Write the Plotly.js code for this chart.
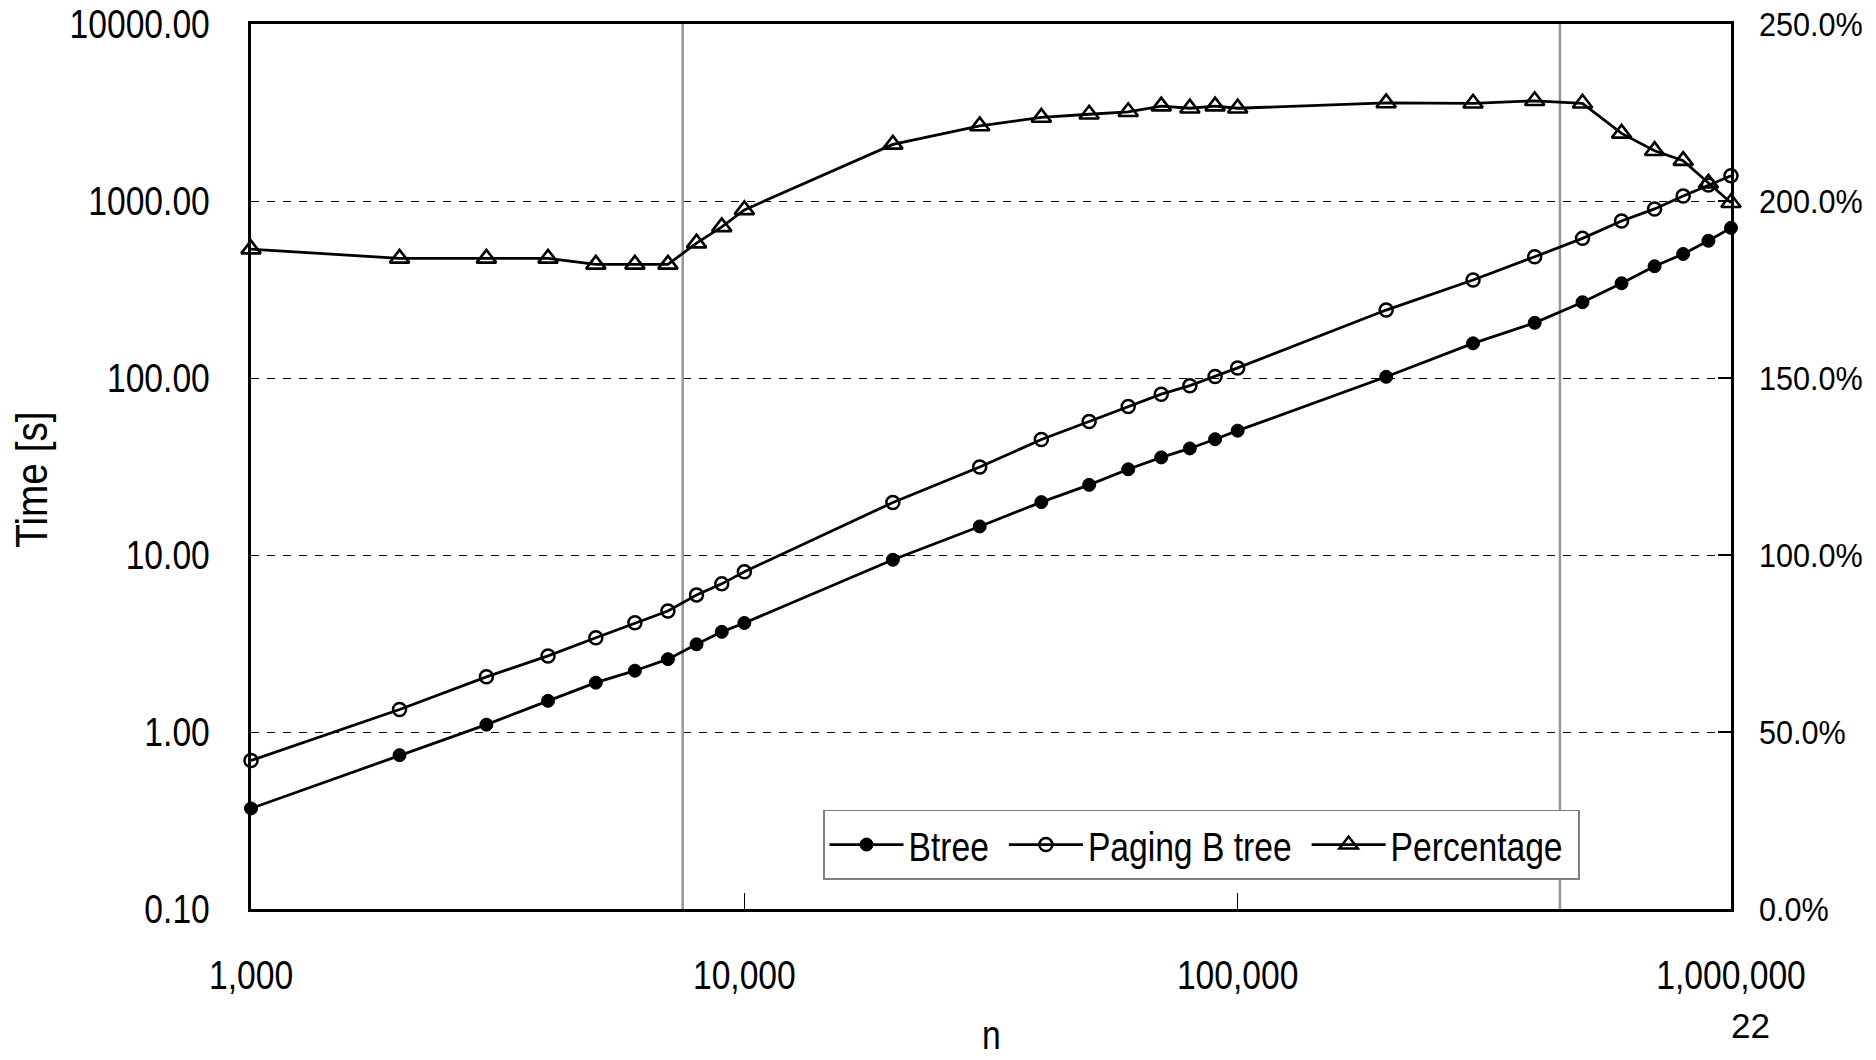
<!DOCTYPE html>
<html>
<head>
<meta charset="utf-8">
<script src="https://cdn.plot.ly/plotly-3.0.1.min.js"></script>
<style>
  html, body { margin: 0; padding: 0; background: #ffffff; }
  #chart { width: 1876px; height: 1060px; }
</style>
</head>
<body>
<div id="chart"></div>
<script>
// ---- data ----
const n = [1000, 2000, 3000, 4000, 5000, 6000, 7000, 8000, 9000, 10000,
           20000, 30000, 40000, 50000, 60000, 70000, 80000, 90000, 100000,
           200000, 300000, 400000, 500000, 600000, 700000, 800000, 900000, 1000000];

const btree = [0.37, 0.74, 1.10, 1.50, 1.90, 2.22, 2.58, 3.13, 3.68, 4.13,
               9.4, 14.5, 19.9, 24.9, 30.5, 35.6, 40.0, 45.1, 50.4,
               101.6, 157, 205, 268, 343, 428, 502, 596, 705];

const pagingBtree = [0.69, 1.34, 2.05, 2.69, 3.41, 4.14, 4.83, 5.95, 6.87, 8.05,
                     19.8, 31.4, 44.9, 56.8, 69.0, 81.0, 90.5, 102, 114,
                     242, 358, 484, 615, 771, 902, 1068, 1230, 1390];

const percentage = [186.4, 183.8, 183.8, 183.8, 182.1, 182.1, 182.1, 188.1, 192.7, 197.5,
                    216.0, 221.2, 223.6, 224.5, 225.2, 226.8, 226.2, 226.8, 226.2,
                    227.7, 227.6, 228.3, 227.6, 219.1, 214.2, 211.4, 205.0, 199.5];

const seriesNames = ['Btree', 'Paging B tree', 'Percentage'];
const markerLines = [7500, 450000];   // grey vertical reference lines (n)

const yTickVals = [0.1, 1, 10, 100, 1000, 10000];
const yTickText = ['0.10', '1.00', '10.00', '100.00', '1000.00', '10000.00'];
const xTickVals = [1000, 10000, 100000, 1000000];
const xTickText = ['1,000', '10,000', '100,000', '1,000,000'];
const y2TickVals = [0, 50, 100, 150, 200, 250];
const y2TickText = ['0.0%', '50.0%', '100.0%', '150.0%', '200.0%', '250.0%'];

// ---- styling ----
const FONT = '"Liberation Sans", Arial, sans-serif';
const FS = 41;
const NARROW = 0.82;   // emulate the narrow face of the original

const traces = [];
markerLines.forEach(v => {
  traces.push({
    x: [v, v], y: [0.1, 10000], mode: 'lines', xaxis: 'x', yaxis: 'y',
    line: {color: '#979797', width: 2.5}, showlegend: false, hoverinfo: 'skip'
  });
});

traces.push({
  x: n, y: btree, name: seriesNames[0], mode: 'lines+markers', xaxis: 'x', yaxis: 'y',
  line: {color: '#000', width: 2.8},
  marker: {symbol: 'circle', size: 13, color: '#000', line: {color: '#000', width: 1}},
  cliponaxis: false
});
traces.push({
  x: n, y: pagingBtree, name: seriesNames[1], mode: 'lines+markers', xaxis: 'x', yaxis: 'y',
  line: {color: '#000', width: 2.8},
  marker: {symbol: 'circle-open', size: 13, color: '#000', line: {color: '#000', width: 2.5}},
  cliponaxis: false
});
traces.push({
  x: n, y: percentage, name: seriesNames[2], mode: 'lines+markers', xaxis: 'x', yaxis: 'y2',
  line: {color: '#000', width: 2.8},
  marker: {symbol: 'triangle-up-open', size: 17, color: '#000', line: {color: '#000', width: 2.6}},
  cliponaxis: false
});

const layout = {
  width: 1876, height: 1060,
  margin: {l: 251, r: 145, t: 24, b: 151, pad: 0},
  paper_bgcolor: '#fff', plot_bgcolor: '#fff',
  font: {family: FONT, size: FS, color: '#000'},
  showlegend: true,
  legend: {
    orientation: 'h', x: 0.3865, y: 0.112, xanchor: 'left', yanchor: 'top',
    bgcolor: '#fff', bordercolor: '#808080', borderwidth: 1.5,
    font: {family: FONT, size: FS, color: '#000'},
    itemwidth: 74, tracegroupgap: 0, traceorder: 'normal'
  },
  xaxis: {
    type: 'log', range: [2.99995, 6.00002], tickvals: xTickVals, ticktext: xTickText,
    showgrid: false, zeroline: false,
    showline: true, linecolor: '#000', linewidth: 3, mirror: true,
    ticks: 'inside', ticklen: 16, tickwidth: 1.2, tickcolor: '#000',
    ticklabelstandoff: 28,
    tickfont: {family: FONT, size: FS, color: '#000'}
  },
  yaxis: {
    type: 'log', range: [-1, 4], tickvals: yTickVals, ticktext: yTickText,
    showgrid: true, gridcolor: '#000', gridwidth: 1, griddash: '8px,8px',
    zeroline: false,
    showline: true, linecolor: '#000', linewidth: 3, mirror: true,
    ticks: '', ticklabelstandoff: 30,
    tickfont: {family: FONT, size: FS, color: '#000'}
  },
  yaxis2: {
    overlaying: 'y', side: 'right', range: [0, 250],
    tickvals: y2TickVals, ticktext: y2TickText,
    showgrid: false, zeroline: false, showline: false,
    ticks: 'inside', ticklen: 13, tickwidth: 1.2, tickcolor: '#000',
    ticklabelstandoff: 27,
    tickfont: {family: FONT, size: 34, color: '#000'}
  },
  annotations: [
    {text: 'Time [s]', xref: 'paper', yref: 'paper', x: (31 - 251) / 1480, y: (909 - 480) / 885,
     xanchor: 'center', yanchor: 'middle', showarrow: false, textangle: -90,
     font: {family: FONT, size: 44, color: '#000'}},
    {text: 'n', xref: 'paper', yref: 'paper', x: 0.5, y: (909 - 1059) / 885,
     xanchor: 'center', yanchor: 'bottom', showarrow: false, borderpad: 0,
     font: {family: FONT, size: FS, color: '#000'}},
    {text: '22', xref: 'paper', yref: 'paper', x: (1750 - 251) / 1480, y: (909 - 1025) / 885,
     xanchor: 'center', yanchor: 'middle', showarrow: false,
     font: {family: FONT, size: 35, color: '#000'}}
  ]
};

const gd = document.getElementById('chart');
Plotly.newPlot(gd, traces, layout, {displayModeBar: false, staticPlot: true}).then(() => {
  function squeeze(t, f) {
    const len = t.getComputedTextLength();
    if (len > 0) {
      t.setAttribute('textLength', (len * f).toFixed(2));
      t.setAttribute('lengthAdjust', 'spacingAndGlyphs');
    }
    return len * (1 - f);
  }
  // axis tick labels and titles
  gd.querySelectorAll('.xtick text, .ytick text').forEach(t => squeeze(t, NARROW));
  gd.querySelectorAll('.y2tick text').forEach(t => squeeze(t, 0.9));
  gd.querySelectorAll('.annotation-text').forEach(t => {
    const s = t.textContent;
    if (s === 'Time [s]') squeeze(t, 0.88);
    else if (s === 'n') squeeze(t, NARROW);
  });
  // legend: squeeze texts, then re-space the items
  const EXTRA = 10;
  const items = Array.from(gd.querySelectorAll('.legend .traces'));
  let shift = 0;
  items.forEach((g, i) => {
    if (i > 0) shift -= EXTRA;
    const tr = g.getAttribute('transform') || '';
    const m = tr.match(/translate\(\s*([-\d.]+)[ ,]+([-\d.]+)\s*\)/);
    if (m && shift) g.setAttribute('transform', 'translate(' + (parseFloat(m[1]) - shift) + ',' + m[2] + ')');
    const txt = g.querySelector('text.legendtext');
    if (txt) shift += squeeze(txt, NARROW);
  });
  const bg = gd.querySelector('.legend rect.bg');
  if (bg) bg.setAttribute('width', parseFloat(bg.getAttribute('width')) - shift + 10);
});
</script>
</body>
</html>
